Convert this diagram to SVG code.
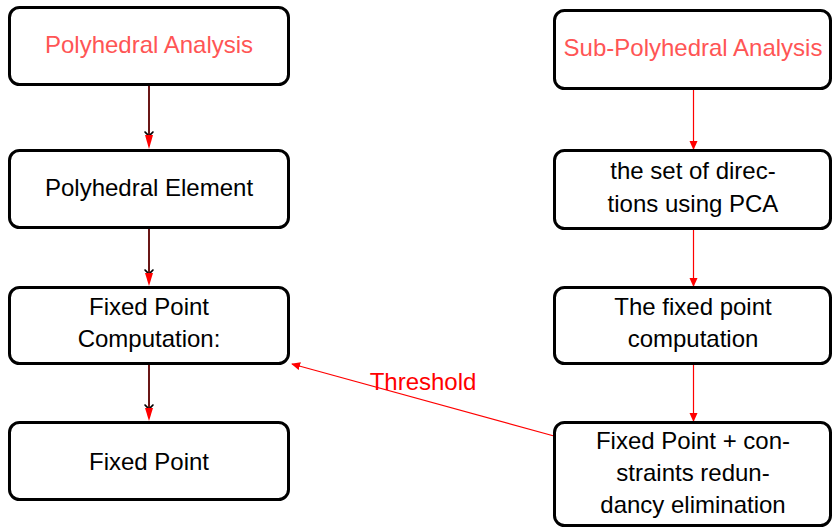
<svg xmlns="http://www.w3.org/2000/svg" width="833" height="528" viewBox="0 0 833 528">
  <style>
    .box { fill: #ffffff; stroke: #000000; stroke-width: 3; }
    .lbl { font-family: "Liberation Sans", Arial, sans-serif; font-size: 24px; text-anchor: middle; fill: #000000; }
    .title { fill: #ff5555; }
    .red { stroke: #ff0000; stroke-width: 1.2; fill: none; }
    .dark { stroke: #2a1a1a; stroke-width: 2; fill: none; }
    .core { stroke: #cc1111; stroke-width: 0.8; fill: none; }
    .barb { stroke: #000000; stroke-width: 1.6; fill: none; stroke-linecap: round; }
    .tip { fill: #ff0000; stroke: none; }
  </style>
  <defs>
    <marker id="redtip" viewBox="0 0 10 10" refX="9" refY="5" markerWidth="9" markerHeight="9" markerUnits="userSpaceOnUse" orient="auto">
      <path d="M0,0.5 L10,5 L0,9.5 z" fill="#ff0000"/>
    </marker>
  </defs>

  <rect width="833" height="528" fill="#ffffff"/>

  <!-- connectors -->
  <g id="connectors">
    <!-- left column: dark shaft with red core, black barbs and red tip -->
    <g id="e-pa-pe">
      <line class="dark" x1="149" y1="85" x2="149" y2="146"/>
      <line class="core" x1="149" y1="85" x2="149" y2="146"/>
      <path class="barb" d="M145,132 Q148,134 149,138 Q150,134 153,132"/>
      <path class="tip" d="M145,135 L153,135 L149,149 z"/>
    </g>
    <g id="e-pe-fpc">
      <line class="dark" x1="149" y1="228" x2="149" y2="283"/>
      <line class="core" x1="149" y1="228" x2="149" y2="283"/>
      <path class="barb" d="M145,270 Q148,272 149,276 Q150,272 153,270"/>
      <path class="tip" d="M145,273 L153,273 L149,286 z"/>
    </g>
    <g id="e-fpc-fp">
      <line class="dark" x1="149" y1="364" x2="149" y2="418"/>
      <line class="core" x1="149" y1="364" x2="149" y2="418"/>
      <path class="barb" d="M145,405 Q148,407 149,411 Q150,407 153,405"/>
      <path class="tip" d="M145,408 L153,408 L149,421 z"/>
    </g>

    <!-- right column: thin red arrows -->
    <line class="red" x1="693.5" y1="89" x2="693.5" y2="149" marker-end="url(#redtip)"/>
    <line class="red" x1="693.5" y1="229" x2="693.5" y2="286" marker-end="url(#redtip)"/>
    <line class="red" x1="693.5" y1="364" x2="693.5" y2="421" marker-end="url(#redtip)"/>

    <!-- threshold feedback -->
    <line class="red" x1="554" y1="436" x2="292" y2="364" marker-end="url(#redtip)"/>
    <text class="lbl" x="423" y="390" fill="#ff0000" style="fill:#ff0000">Threshold</text>
  </g>

  <!-- left column -->
  <g id="polyhedral-analysis">
    <rect class="box" x="9.5" y="7.5" width="279" height="77" rx="10"/>
    <text class="lbl title" x="149" y="53">Polyhedral Analysis</text>
  </g>
  <g id="polyhedral-element">
    <rect class="box" x="9.5" y="150.5" width="279" height="77" rx="10"/>
    <text class="lbl" x="149" y="196">Polyhedral Element</text>
  </g>
  <g id="fixed-point-computation">
    <rect class="box" x="9.5" y="287.5" width="279" height="76" rx="10"/>
    <text class="lbl" x="149" y="315">Fixed Point</text>
    <text class="lbl" x="149" y="347">Computation:</text>
  </g>
  <g id="fixed-point">
    <rect class="box" x="9.5" y="422.5" width="279" height="77" rx="10"/>
    <text class="lbl" x="149" y="470">Fixed Point</text>
  </g>

  <!-- right column -->
  <g id="sub-polyhedral-analysis">
    <rect class="box" x="554.5" y="10.5" width="276" height="78" rx="10"/>
    <text class="lbl title" x="693" y="56">Sub-Polyhedral Analysis</text>
  </g>
  <g id="pca-directions">
    <rect class="box" x="554.5" y="150.5" width="276" height="78" rx="10"/>
    <text class="lbl" x="693" y="179">the set of direc-</text>
    <text class="lbl" x="693" y="212">tions using PCA</text>
  </g>
  <g id="fixed-point-computation-sub">
    <rect class="box" x="554.5" y="287.5" width="276" height="76" rx="10"/>
    <text class="lbl" x="693" y="315">The fixed point</text>
    <text class="lbl" x="693" y="347">computation</text>
  </g>
  <g id="redundancy-elimination">
    <rect class="box" x="554.5" y="422.5" width="276" height="103" rx="10"/>
    <text class="lbl" x="693" y="449">Fixed Point + con-</text>
    <text class="lbl" x="693" y="481">straints redun-</text>
    <text class="lbl" x="693" y="513">dancy elimination</text>
  </g>
</svg>
